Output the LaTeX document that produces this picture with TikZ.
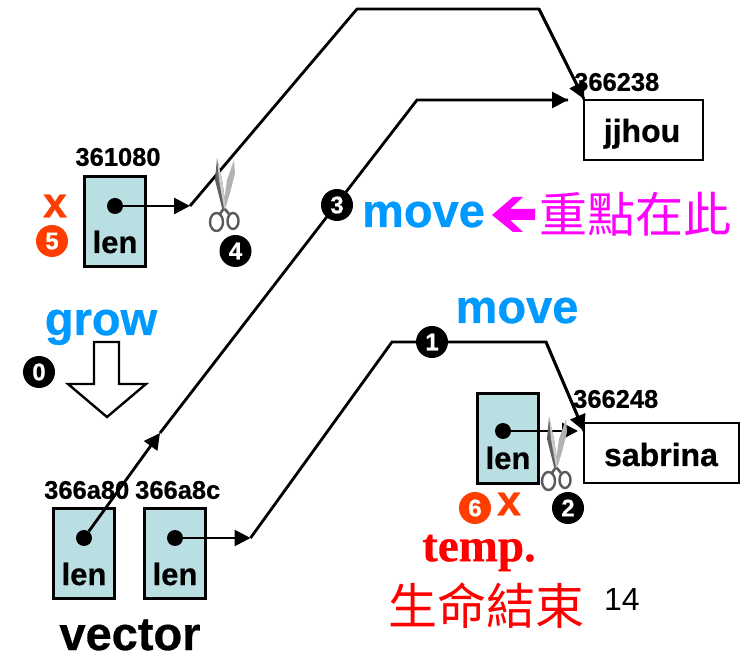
\documentclass[tikz,border=0pt]{standalone}
\usepackage{fontspec}
\setmainfont{Liberation Sans}[BoldFeatures={FakeBold=0.6}]
\newfontfamily\serifb{Liberation Serif}[BoldFont={Liberation Serif Bold},BoldFeatures={FakeBold=0.6}]
\newfontfamily\cjk{Noto Sans CJK TC}
\usetikzlibrary{arrows.meta}
\definecolor{cellblue}{HTML}{B9DFE3}
\definecolor{skyb}{HTML}{0099FF}
\definecolor{orng}{HTML}{FF3D00}
\definecolor{magn}{HTML}{FF00FF}
\newcommand{\fs}[1]{\fontsize{#1}{#1}\selectfont}
\tikzset{
  x=1pt,y=-1pt,
  cell/.style={draw=black,line width=2.6pt,fill=cellblue,minimum width=61pt,minimum height=90pt,inner sep=0pt},
  strbox/.style={draw=black,line width=2.6pt,fill=white,inner sep=0pt},
  boxtext/.style={anchor=base,inner sep=0pt,font=\bfseries\fs{32}},
  addr/.style={font=\bfseries\fs{25.5},inner sep=0pt},
  lenlabel/.style={anchor=base,font=\bfseries\fs{31},inner sep=0pt},
  dot/.style={circle,fill=black,minimum size=16pt,inner sep=0pt},
  numk/.style={circle,fill=black,text=white,minimum size=32pt,inner sep=0pt,font=\bfseries\fs{24}},
  numr/.style={circle,fill=orng,text=white,minimum size=32pt,inner sep=0pt,font=\bfseries\fs{24}},
  crossx/.style={text=orng,font=\bfseries\fs{43},inner sep=0pt},
  link/.style={draw=black,line width=2.8pt},
  tip/.style={-{Triangle[length=16pt,width=16pt]}},
  blue/.style={anchor=base,text=skyb,font=\bfseries\fs{47},inner sep=0pt},
}
\newcommand{\scissors}[2]{%
 \begin{scope}[shift={(#1,#2)}]
  \draw[gray!70!black,line width=2.4pt] (-7.5,14) ellipse (6.5 and 9);
  \draw[gray!70!black,line width=2.4pt] (9,13) ellipse (5.5 and 8);
  \draw[gray!70!black,line width=2.6pt] (-4,6) -- (0,0) -- (5,6);
  \fill[gray!60] (10,-48) -- (11,-35) -- (6,-15) -- (1,1) -- (-1,0) -- (3,-28) -- cycle;
  \fill[gray!75!black] (-7,-50) -- (-9,-28) -- (-2,0) -- (2,0) -- (-2,-28) -- cycle;
  \fill[gray!40] (-7,-50) -- (-5,-28) -- (0,0) -- (2,0) -- (-2,-28) -- cycle;
 \end{scope}}
\begin{document}
\begin{tikzpicture}
\useasboundingbox (0,0) rectangle (748,660);
% string boxes
\node[strbox,minimum width=119pt,minimum height=60pt] (jj) at (643.5,130) {};
\node[strbox,minimum width=155pt,minimum height=60pt] (sa) at (661.5,453) {};
\node[boxtext] (jjt) at (642,142) {jjhou};
\node[boxtext] (sat) at (661,466) {sabrina};
\node[addr,anchor=west] (ajj) at (574,82) {366238};
\node[addr,anchor=west] (asa) at (573,399) {366248};
% cells
\node[cell] (c0) at (115,221.5) {};
\node[cell] (c1) at (508,438.5) {};
\node[cell] (c2) at (84,553.5) {};
\node[cell] (c3) at (175,553.5) {};
\node[lenlabel] at (115,253) {len};
\node[lenlabel] at (508,469) {len};
\node[lenlabel] at (84,585) {len};
\node[lenlabel] at (175,585) {len};
\node[dot] (d0) at (115,206) {};
\node[dot] (d1) at (503,431) {};
\node[dot] (d2) at (84,538) {};
\node[dot] (d3) at (175,538) {};
\node[addr] (a0) at (118,157) {361080};
\node[addr,anchor=west] (a2) at (44,490) {366a80};
\node[addr,anchor=west] (a3) at (135,490) {366a8c};
% free points
\coordinate (e0) at (190,206);
\coordinate (p0) at (357,9);
\coordinate (p1) at (539,9);
\coordinate (t0) at (584,99);
\coordinate (e2) at (160,433);
\coordinate (p2) at (417,100);
\coordinate (t2) at (568,100);
\coordinate (e3) at (250.5,538);
\coordinate (p3) at (392,342);
\coordinate (p4) at (546,342);
\coordinate (t3) at (584,431);
\coordinate (t1) at (578,431);
% connectors
\draw[link,line join=round] (e0) -- (p0) -- (p1) -- (t0);
\draw[link] (e2) -- (p2) -- (t2);
\draw[link] (e3) -- (p3) -- (p4) -- (t3);
\draw[link,tip] (d0) -- (e0);
\draw[link,tip] (d2) -- (e2);
\draw[link,tip] (d3) -- (e3);
\draw[link,tip] (p2) -- (t2);
\draw[link,tip] (p1) -- (t0);
\draw[link,tip] (p4) -- (t3);
\draw[link,tip] (d1) -- (t1);
% scissors
\scissors{224}{208}
\scissors{556}{467}
% numbers
\node[numk] (n0) at (39,372) {0};
\node[numk] (n1) at (432,342) {1};
\node[numk] (n2) at (568,508) {2};
\node[numk] (n3) at (337,205) {3};
\node[numk] (n4) at (235.5,251) {4};
\node[numr] (n5) at (52,241) {5};
\node[numr] (n6) at (475,508) {6};
\node[crossx] (x5) at (55,206) {x};
\node[crossx] (x6) at (509,504) {x};
% texts
\node[blue] (mv1) at (423.5,227) {move};
\node[blue] (mv2) at (517,323) {move};
\node[blue] (gr) at (101,335) {grow};
\node[text=magn,font=\cjk\fs{48},inner sep=0pt] (zd) at (635,214) {重點在此};
\fill[magn] (492,215) -- (513,197) -- (523,197) -- (510,209) -- (535,209) -- (535,220) -- (510,220) -- (523,232) -- (513,232) -- cycle;
\draw[line width=2.4pt,fill=white] (94,342) -- (119,342) -- (119,384) -- (146,384) -- (107,417) -- (68,384) -- (94,384) -- cycle;
\node[anchor=base,font=\bfseries\fs{47},inner sep=0pt] (vec) at (130,650) {vector};
\node[text=red,font=\serifb\bfseries\fs{47},inner sep=0pt] (tmp) at (479,553) {temp.};
\node[text=red,font=\cjk\fs{49},inner sep=0pt] (sm) at (486,606) {生命結束};
\node[font=\fs{32},inner sep=0pt] (pg) at (622,599) {14};
\end{tikzpicture}
\end{document}
